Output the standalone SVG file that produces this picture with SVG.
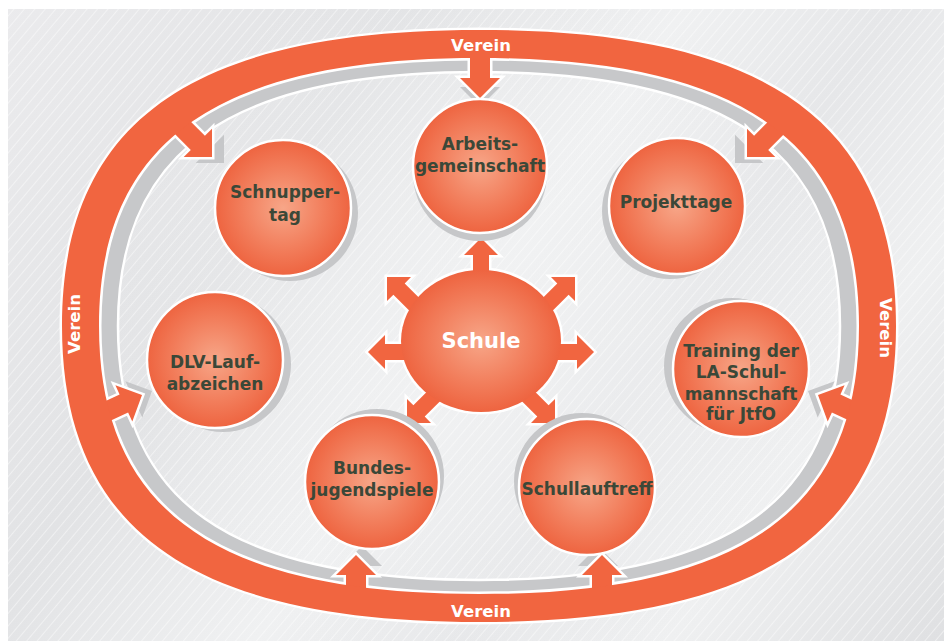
<svg xmlns="http://www.w3.org/2000/svg" width="944" height="641" viewBox="0 0 944 641">
<defs>
<linearGradient id="bg" x1="0" y1="0" x2="944" y2="641" gradientUnits="userSpaceOnUse">
<stop offset="0" stop-color="#ebebed"/>
<stop offset="0.3" stop-color="#e2e3e5"/>
<stop offset="0.5" stop-color="#f0f1f2"/>
<stop offset="0.65" stop-color="#e6e7e9"/>
<stop offset="0.8" stop-color="#eff0f1"/>
<stop offset="1" stop-color="#dfe0e2"/>
</linearGradient>
<radialGradient id="inner" cx="480" cy="330" r="380" gradientUnits="userSpaceOnUse">
<stop offset="0" stop-color="#f1f2f3" stop-opacity="0.7"/>
<stop offset="1" stop-color="#f1f2f3" stop-opacity="0"/>
</radialGradient>
<pattern id="stripes" width="8" height="8" patternUnits="userSpaceOnUse" patternTransform="rotate(40)">
<rect x="0" y="0" width="0.9" height="8" fill="#ffffff" opacity="0.5"/>
</pattern>
<radialGradient id="ball" cx="0.5" cy="0.5" r="0.5">
<stop offset="0" stop-color="#f7a688"/>
<stop offset="0.6" stop-color="#f27e5c"/>
<stop offset="1" stop-color="#ee6440"/>
</radialGradient>
<path id="band" fill-rule="evenodd" d="M896,326 C896,121.8 766.7,30 479,30 C191.3,30 62,121.8 62,326 C62,530.2 191.3,622 479,622 C766.7,622 896,530.2 896,326 Z M859,326 C859,141.1 741.2,58 479,58 C216.8,58 99,141.1 99,326 C99,510.9 216.8,594 479,594 C741.2,594 859,510.9 859,326 Z"/>
<path id="grayring" fill-rule="evenodd" d="M859,326 C859,141.1 741.2,58 479,58 C216.8,58 99,141.1 99,326 C99,510.9 216.8,594 479,594 C741.2,594 859,510.9 859,326 Z M840,326 C840,150.7 728.1,72 479,72 C229.9,72 118,150.7 118,326 C118,501.3 229.9,580 479,580 C728.1,580 840,501.3 840,326 Z"/>
</defs>
<style>
.band{fill:#f16540}
.bandedge{fill:#f16540;stroke:#ffffff;stroke-width:5}
.gray{fill:#c7c8ca;stroke:#ffffff;stroke-width:2.5}
.arrow{fill:#f16540;stroke:#ffffff;stroke-width:5;stroke-linejoin:miter;paint-order:stroke}
.shade{fill:#c6c7c9}
.node{fill:url(#ball);stroke:#ffffff;stroke-width:2.5}
.lbl{font-family:"DejaVu Sans","Liberation Sans",sans-serif;font-weight:bold;font-size:17px;fill:#3b4838;text-anchor:middle}
.verein{font-family:"DejaVu Sans","Liberation Sans",sans-serif;font-weight:bold;font-size:16.5px;fill:#ffffff;text-anchor:middle}
.schule{font-family:"DejaVu Sans","Liberation Sans",sans-serif;font-weight:bold;font-size:21px;fill:#ffffff;text-anchor:middle}
</style>

<g id="background">
<rect x="0" y="0" width="944" height="641" fill="#ffffff"/>
<rect x="8" y="9" width="936" height="632" fill="url(#bg)"/>
<rect x="8" y="9" width="936" height="632" fill="url(#inner)"/>
<rect x="8" y="9" width="936" height="632" fill="url(#stripes)"/>
</g>

<g id="inner-ring">
<use href="#grayring" class="gray"/>
</g>

<g id="shadows">
<polygon class="shade" points="460,87 500,87 480,107"/>
<polygon class="shade" points="195.7,163 224,163 224,134.7"/>
<polygon class="shade" points="763.3,163 735,163 735,134.7"/>
<polygon class="shade" points="142.3,417.6 152,391 125.4,381.3"/>
<polygon class="shade" points="817.7,417.6 808,391 834.6,381.3"/>
<polygon class="shade" points="342,566 362,546 382,566"/>
<polygon class="shade" points="578,566 598,546 618,566"/>
</g>

<g id="outer-ring">
<use href="#band" class="bandedge"/>
</g>

<g id="schule-base">
<ellipse cx="481" cy="341" rx="80" ry="71" fill="#ef6843" stroke="#ffffff" stroke-width="5"/>
</g>

<g id="connectors">
<polygon class="arrow" points="470,45 490,45 490,78 500,78 480,98 460,78 470,78"/>
<polygon class="arrow" points="346,610 346,575 336,575 356,555 376,575 366,575 366,610"/>
<polygon class="arrow" points="592,610 592,575 582,575 602,555 622,575 612,575 612,610"/>
<polygon class="arrow" points="163.9,123.1 190.8,149.9 183.7,157 212,157 212,128.7 204.9,135.8 178.1,108.9"/>
<polygon class="arrow" points="795.1,123.1 768.2,149.9 775.3,157 747,157 747,128.7 754.1,135.8 780.9,108.9"/>
<polygon class="arrow" points="93.7,428.6 128.1,412.5 132.3,421.6 142,395 115.4,385.3 119.6,394.4 85.2,410.5"/>
<polygon class="arrow" points="866.3,428.6 831.9,412.5 827.7,421.6 818,395 844.6,385.3 840.4,394.4 874.8,410.5"/>
<polygon class="arrow" points="473,276 473,255 464,255 481,238 498,255 489,255 489,276"/>
<polygon class="arrow" points="423.1,301.7 404.7,283.4 411,277 387,277 387,301 393.4,294.7 411.7,313.1"/>
<polygon class="arrow" points="538.9,301.7 557.3,283.4 551,277 575,277 575,301 568.6,294.7 550.3,313.1"/>
<polygon class="arrow" points="407,344 385,344 385,335 368,352 385,369 385,360 407,360"/>
<polygon class="arrow" points="555,344 577,344 577,335 594,352 577,369 577,360 555,360"/>
<polygon class="arrow" points="443.1,398.3 424.7,416.6 431,423 407,423 407,399 413.4,405.3 431.7,386.9"/>
<polygon class="arrow" points="518.9,398.3 537.3,416.6 531,423 555,423 555,399 548.6,405.3 530.3,386.9"/>
</g>

<g id="verein">
<use href="#band" class="band"/>
<text class="verein" x="481" y="50.5">Verein</text>
<text class="verein" x="481" y="617">Verein</text>
<text class="verein" transform="translate(80,324) rotate(-90)">Verein</text>
<text class="verein" transform="translate(880,328) rotate(90)">Verein</text>
</g>

<g id="schule">
<ellipse cx="481" cy="341" rx="80" ry="71" fill="url(#ball)"/>
<text class="schule" x="481" y="348">Schule</text>
</g>

<g id="arbeitsgemeinschaft">
<circle cx="480" cy="174" r="67" class="shade"/>
<circle cx="480" cy="166" r="67" class="node"/>
<text class="lbl" x="480" y="150">Arbeits-</text>
<text class="lbl" x="480" y="172">gemeinschaft</text>
</g>

<g id="schnuppertag">
<circle cx="290" cy="213" r="68" class="shade"/>
<circle cx="283" cy="208" r="68" class="node"/>
<text class="lbl" x="285" y="198">Schnupper-</text>
<text class="lbl" x="285" y="221">tag</text>
</g>

<g id="projekttage">
<circle cx="670" cy="211" r="68" class="shade"/>
<circle cx="677" cy="206" r="68" class="node"/>
<text class="lbl" x="676" y="208">Projekttage</text>
</g>

<g id="dlv">
<circle cx="223" cy="364" r="68" class="shade"/>
<circle cx="215" cy="360" r="68" class="node"/>
<text class="lbl" x="215" y="368">DLV-Lauf-</text>
<text class="lbl" x="215" y="390">abzeichen</text>
</g>

<g id="training">
<circle cx="732" cy="366" r="68" class="shade"/>
<circle cx="741" cy="369" r="68" class="node"/>
<text class="lbl" x="741" y="357">Training der</text>
<text class="lbl" x="741" y="378">LA-Schul-</text>
<text class="lbl" x="741" y="400">mannschaft</text>
<text class="lbl" x="741" y="420">für JtfO</text>
</g>

<g id="bundesjugendspiele">
<circle cx="377" cy="476" r="67" class="shade"/>
<circle cx="372" cy="482" r="67" class="node"/>
<text class="lbl" x="372" y="474">Bundes-</text>
<text class="lbl" x="372" y="496">jugendspiele</text>
</g>

<g id="schullauftreff">
<circle cx="582" cy="481" r="68" class="shade"/>
<circle cx="587" cy="487" r="68" class="node"/>
<text class="lbl" x="587" y="495">Schullauftreff</text>
</g>
</svg>
